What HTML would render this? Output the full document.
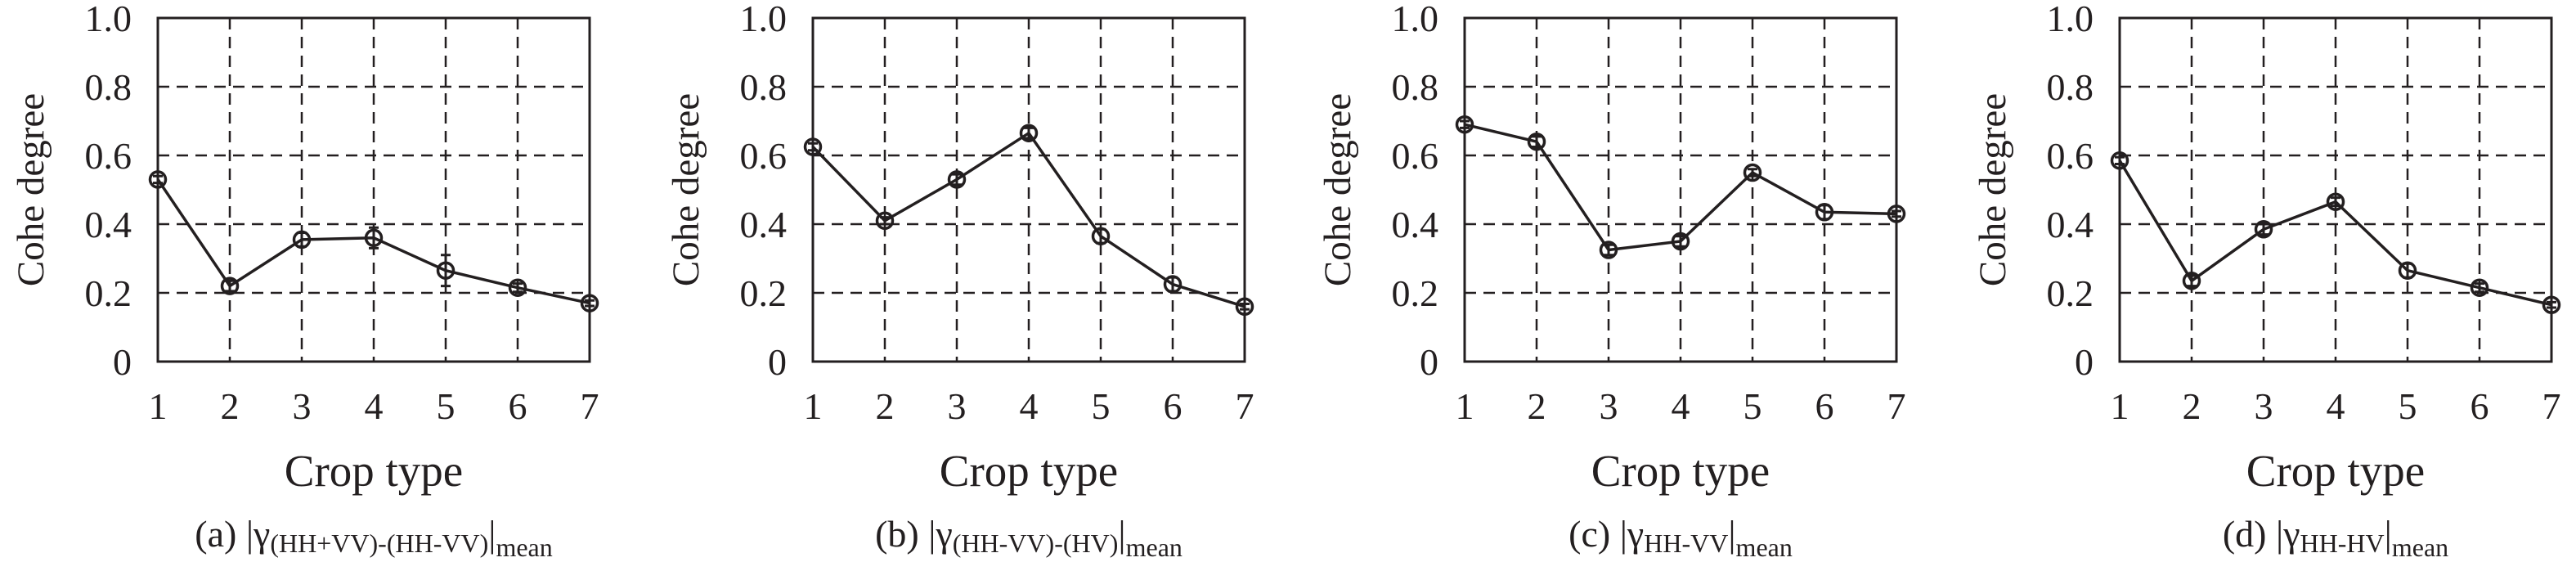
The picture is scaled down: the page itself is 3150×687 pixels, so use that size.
<!DOCTYPE html>
<html><head><meta charset="utf-8">
<style>
html,body{margin:0;padding:0;background:#fff;}
svg{display:block;font-family:"Liberation Serif",serif;}
</style></head>
<body>
<svg id="fig" width="3150" height="687" viewBox="0 0 3150 687" xmlns="http://www.w3.org/2000/svg"></svg>
<script>
const categories = [1,2,3,4,5,6,7];
const yTicks = [0,0.2,0.4,0.6,0.8,1.0];
const yTickLabels = ["0","0.2","0.4","0.6","0.8","1.0"];
const seriesA = [0.53,0.22,0.355,0.36,0.265,0.215,0.17];
const seriesB = [0.625,0.41,0.53,0.665,0.365,0.225,0.16];
const seriesC = [0.69,0.64,0.325,0.35,0.55,0.435,0.43];
const seriesD = [0.585,0.235,0.385,0.465,0.265,0.215,0.165];
const errA = [0.01,0.015,0.02,0.03,0.045,0.012,0.008];
const errB = [0.01,0.01,0.015,0.015,0.02,0.02,0.008];
const errC = [0.01,0.015,0.015,0.015,0.01,0.02,0.008];
const errD = [0.01,0.015,0.015,0.012,0.02,0.012,0.008];
const captionLetters = ["(a)","(b)","(c)","(d)"];
const captionSubs = ["(HH+VV)-(HH-VV)","(HH-VV)-(HV)","HH-VV","HH-HV"];

const NS="http://www.w3.org/2000/svg";
const svgEl=document.getElementById('fig');
function mk(tag,attrs,parent){const e=document.createElementNS(NS,tag);for(const k in attrs)e.setAttribute(k,attrs[k]);(parent||svgEl).appendChild(e);return e;}

const panels=[
 {left:193,series:seriesA,err:errA},
 {left:994,series:seriesB,err:errB},
 {left:1791,series:seriesC,err:errC},
 {left:2592,series:seriesD,err:errD}];
const plotW=528, plotTop=22, plotBottom=442;

panels.forEach((p,pi)=>{
  const g=mk('g',{});
  
  
  const xS=v=>p.left+(v-1)/(categories.length-1)*plotW;
  const yS=v=>plotBottom-v*(plotBottom-plotTop);
  yTicks.forEach((t,i)=>{
    if(i>0&&i<yTicks.length-1){
      const l=mk('line',{x1:p.left,x2:p.left+plotW,y1:yS(t),y2:yS(t),stroke:'#231f20','stroke-width':2.5,'stroke-dasharray':'14,9'},g);
      
      
    }
    const tx=mk('text',{x:p.left-32,y:yS(t)+16,'text-anchor':'end','font-size':46,fill:'#231f20'},g);
    tx.textContent=yTickLabels[i];
    
    
  });
  categories.forEach((c,i)=>{
    if(i>0&&i<categories.length-1){
      const l=mk('line',{x1:xS(c),x2:xS(c),y1:plotTop,y2:plotBottom,stroke:'#231f20','stroke-width':2.5,'stroke-dasharray':'14,9'},g);
      
      
    }
    const tx=mk('text',{x:xS(c),y:512,'text-anchor':'middle','font-size':46,fill:'#231f20'},g);
    tx.textContent=String(c);
    
    
  });
  const fr=mk('rect',{x:p.left,y:plotTop,width:plotW,height:plotBottom-plotTop,fill:'none',stroke:'#231f20','stroke-width':3},g);
  
  
  const pts=p.series.map((v,i)=>xS(categories[i])+','+yS(v)).join(' ');
  const pl=mk('polyline',{points:pts,fill:'none',stroke:'#231f20','stroke-width':3.5},g);
  
  
  p.series.forEach((v,i)=>{
    const x=xS(categories[i]);
    const e=p.err[i];
    const eb=mk('path',{d:`M${x},${yS(v+e)}V${yS(v-e)}M${x-6},${yS(v+e)}H${x+6}M${x-6},${yS(v-e)}H${x+6}`,stroke:'#231f20','stroke-width':3,fill:'none'},g);
    
    
    const c=mk('circle',{cx:x,cy:yS(v),r:9.5,fill:'none',stroke:'#231f20','stroke-width':3.5},g);
    
    
  });
  const xt=mk('text',{x:p.left+plotW/2,y:594,'text-anchor':'middle','font-size':55,fill:'#231f20'},g);
  xt.textContent='Crop type';
  
  
  const yt=mk('text',{x:0,y:0,'text-anchor':'middle','font-size':47,fill:'#231f20',transform:`translate(${p.left-140},${(plotTop+plotBottom)/2}) rotate(-90)`},g);
  yt.textContent='Cohe degree';
  
  
  const cap=mk('text',{x:p.left+plotW/2,y:668,'text-anchor':'middle','font-size':46,fill:'#231f20'},g);
  
  
  const t1=mk('tspan',{},cap); t1.textContent=captionLetters[pi]+' |γ';
  const t2=mk('tspan',{'font-size':32,dy:7},cap); t2.textContent=captionSubs[pi];
  const t3=mk('tspan',{dy:-7},cap); t3.textContent='|';
  const t4=mk('tspan',{'font-size':32,dy:12},cap); t4.textContent='mean';
});
</script>
</body></html>
